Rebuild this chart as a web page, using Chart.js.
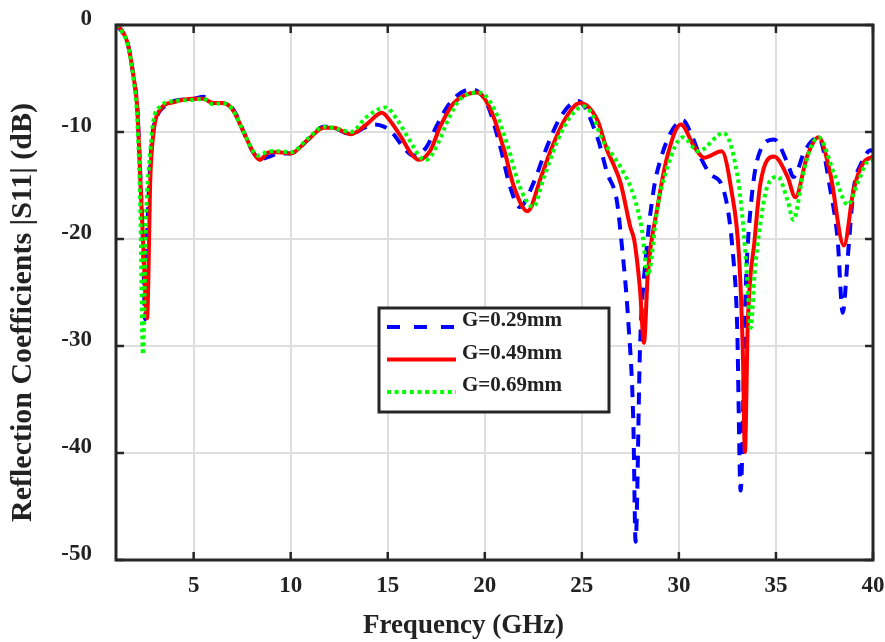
<!DOCTYPE html>
<html>
<head>
<meta charset="utf-8">
<script src="https://cdn.jsdelivr.net/npm/chart.js@4.4.0/dist/chart.umd.min.js"></script>
<style>
  html, body { margin: 0; padding: 0; background: #fff; }
</style>
</head>
<body>
<canvas id="s11Chart" width="885" height="642"></canvas>
<script>
// frequency (GHz) / S11 (dB) samples for each gap width G
const freq029 = [1.0, 1.3, 1.6, 1.9, 2.1, 2.25, 2.4, 2.5, 2.6, 2.75, 2.9, 3.2, 3.6, 4.0, 5.0, 5.5, 6.0, 6.4, 6.8, 7.2,
  7.6, 8.1, 8.5, 8.9, 9.4, 10.0, 10.9, 11.7, 12.2, 13.1, 13.8, 14.3, 14.8, 15.2, 15.8, 16.3, 17.0, 17.5, 18.2, 19.3,
  20.1, 20.8, 21.3, 21.8, 22.5, 23.2, 23.9, 24.8, 25.8, 26.3, 26.8, 27.0, 27.4, 27.65, 27.77, 28.0, 28.3, 28.7, 29.1, 29.6,
  30.2, 30.7, 31.1, 31.6, 32.3, 32.8, 33.0, 33.18, 33.44, 33.7, 34.2, 34.9, 35.6, 35.9, 36.5, 37.2, 37.8, 38.18, 38.44, 38.7,
  39.0, 39.4, 39.9, 40.0]
const s11_029 = [0, -0.6, -1.7, -4.8, -7.9, -14, -21, -27.5, -20, -13.5, -10, -8.2, -7.5, -7.1, -6.9, -6.7, -7.3, -7.3, -7.4, -8.4,
  -10.1, -12.0, -12.5, -12.3, -12.0, -12.0, -10.7, -9.5, -9.6, -10.2, -9.6, -9.3, -9.5, -10.0, -11.4, -12.2, -11.4, -9.5, -7.3, -6.0,
  -7.3, -11.4, -15.1, -17.0, -14.8, -11.4, -8.6, -7.1, -10.5, -13.8, -16.4, -19.5, -27.9, -37, -48.3, -30, -21.7, -15.4, -12.3, -10,
  -8.9, -10.5, -12.3, -13.9, -15.4, -21.7, -28, -43.5, -24.8, -17, -11.7, -10.7, -12.9, -14.2, -11.7, -10.5, -15.4, -20.1, -26.9, -21.7,
  -15.4, -12.9, -11.7, -11.8]

const freq049 = [1.0, 1.3, 1.6, 1.9, 2.1, 2.25, 2.4, 2.6, 2.77, 2.93, 3.28, 4.0, 5.0, 5.5, 6.0, 6.5, 7.0, 7.6, 8.1, 8.4,
  8.9, 9.4, 10.0, 10.9, 11.7, 12.2, 13.1, 13.9, 14.7, 15.1, 15.7, 16.2, 16.6, 17.2, 17.7, 18.4, 19.6, 20.3, 21.0, 21.5,
  22.2, 22.9, 23.4, 24.1, 24.9, 25.8, 26.3, 26.6, 27.0, 27.5, 27.7, 28.0, 28.2, 28.4, 28.9, 29.4, 30.1, 30.8, 31.3, 32.2,
  32.7, 33.1, 33.3, 33.4, 33.55, 33.9, 34.2, 34.9, 35.6, 36.0, 36.6, 37.2, 37.8, 38.5, 39.0, 39.5, 40.0]
const s11_049 = [0, -0.5, -1.7, -4.8, -7.9, -14.2, -20.4, -27.4, -14.2, -10.1, -7.9, -7.2, -6.9, -6.9, -7.3, -7.3, -7.9, -10.1, -12.0, -12.6,
  -11.9, -11.9, -12.0, -10.7, -9.6, -9.6, -10.2, -9.3, -8.2, -8.9, -10.5, -12.0, -12.6, -11.7, -9.5, -7.3, -6.3, -7.9, -11.7, -15.1,
  -17.4, -14.2, -11.7, -8.9, -7.3, -8.9, -11.7, -12.9, -14.8, -18.9, -20.1, -24.8, -29.7, -23.2, -17, -12.3, -9.3, -11.4, -12.4, -11.8,
  -15.4, -21.7, -31, -39.9, -27.9, -20.1, -14.8, -12.3, -14.2, -16.1, -12.3, -10.5, -13.9, -20.6, -15.4, -12.9, -12.3]

const freq069 = [1.0, 1.3, 1.6, 1.9, 2.1, 2.25, 2.39, 2.55, 2.77, 2.93, 3.3, 4.0, 5.0, 5.5, 6.0, 6.5, 7.0, 7.6, 8.1, 8.3,
  8.9, 9.4, 10.0, 10.9, 11.7, 12.2, 13.1, 13.9, 14.9, 15.5, 16.2, 16.7, 17.0, 17.6, 18.1, 18.7, 19.7, 20.5, 21.2, 21.8,
  22.5, 23.0, 23.7, 24.4, 25.1, 25.6, 26.0, 26.6, 27.0, 27.7, 28.1, 28.4, 28.9, 29.4, 30.2, 31.0, 32.3, 33.0, 33.3, 33.5,
  33.7, 33.9, 34.2, 34.5, 35.1, 35.6, 35.9, 36.4, 36.8, 37.2, 38.0, 38.7, 39.2, 39.7, 40.0]
const s11_069 = [0, -0.6, -1.8, -5.0, -9, -17, -30.8, -18, -11.7, -8.9, -7.6, -7.1, -7.0, -6.9, -7.4, -7.3, -7.9, -10.1, -11.9, -12.2,
  -11.8, -11.8, -11.9, -10.6, -9.5, -9.6, -10.0, -8.6, -7.7, -8.9, -11.0, -12.4, -12.6, -11.0, -8.9, -7.0, -6.3, -7.9, -11.4, -15.1,
  -17.0, -14.5, -11.0, -8.6, -7.6, -8.6, -10.5, -12.2, -13.3, -16.1, -19.2, -23.4, -17, -13.3, -10.5, -11.8, -10.1, -13.9, -18.5, -23.2,
  -28.3, -23.2, -18.5, -15.4, -14.2, -16.4, -18.2, -13.9, -11.4, -10.5, -13.9, -16.8, -14.8, -12.8, -12.6]

const seriesLabels = ['G=0.29mm', 'G=0.49mm', 'G=0.69mm']
const xTickValues = [5, 10, 15, 20, 25, 30, 35, 40]

const FONT = '"Liberation Serif", "Times New Roman", serif'
const INK = '#222222'

const toPoints = (xs, ys) => xs.map((f, i) => ({ x: f, y: ys[i] }))

const data = {
  datasets: [
    {
      label: seriesLabels[0],
      data: toPoints(freq029, s11_029),
      borderColor: '#0000ff',
      borderWidth: 4,
      borderDash: [12, 9],
      legendDash: [13, 14],
      order: 2
    },
    {
      label: seriesLabels[1],
      data: toPoints(freq049, s11_049),
      borderColor: '#ff0000',
      borderWidth: 4,
      borderDash: [],
      legendDash: [],
      order: 1
    },
    {
      label: seriesLabels[2],
      data: toPoints(freq069, s11_069),
      borderColor: '#00ff00',
      borderWidth: 4,
      borderDash: [3.5, 3.5],
      legendDash: [4, 3.6],
      order: 0
    }
  ]
}

// box frame with inward ticks, axis titles and the legend box
const framePlugin = {
  id: 'framePlugin',
  afterDraw(chart) {
    const { ctx, chartArea: a, scales } = chart
    const xs = scales.x, ys = scales.y
    const tick = 8
    ctx.save()
    ctx.strokeStyle = '#262626'
    ctx.lineWidth = 2.5
    ctx.beginPath()
    xTickValues.forEach(v => {
      const px = xs.getPixelForValue(v)
      ctx.moveTo(px, a.bottom); ctx.lineTo(px, a.bottom - tick)
      ctx.moveTo(px, a.top); ctx.lineTo(px, a.top + tick)
    })
    ys.ticks.forEach(t => {
      const py = ys.getPixelForValue(t.value)
      ctx.moveTo(a.left, py); ctx.lineTo(a.left + tick, py)
      ctx.moveTo(a.right, py); ctx.lineTo(a.right - tick, py)
    })
    ctx.stroke()
    ctx.lineWidth = 3
    ctx.strokeRect(a.left, a.top, a.right - a.left, a.bottom - a.top)

    // axis titles
    ctx.fillStyle = INK
    ctx.textAlign = 'center'
    ctx.textBaseline = 'middle'
    ctx.font = 'bold 27px ' + FONT
    ctx.fillText('Frequency (GHz)', (a.left + a.right) / 2 - 31, 626)
    ctx.save()
    ctx.translate(23, (a.top + a.bottom) / 2 + 20)
    ctx.rotate(-Math.PI / 2)
    ctx.font = 'bold 30px ' + FONT
    ctx.fillText('Reflection Coefficients |S11| (dB)', 0, 0)
    ctx.restore()

    // legend
    const lx = 379, ly = 308, lw = 230, lh = 104
    ctx.fillStyle = '#ffffff'
    ctx.fillRect(lx, ly, lw, lh)
    ctx.lineWidth = 3
    ctx.strokeStyle = '#262626'
    ctx.strokeRect(lx, ly, lw, lh)
    ctx.font = 'bold 21px ' + FONT
    ctx.textAlign = 'left'
    ctx.textBaseline = 'middle'
    chart.data.datasets.forEach((ds, i) => {
      const rowY = ly + 16 + i * 32.5
      ctx.save()
      ctx.strokeStyle = ds.borderColor
      ctx.lineWidth = ds.borderWidth
      ctx.setLineDash(ds.legendDash)
      ctx.beginPath()
      ctx.moveTo(lx + 8, rowY + 3)
      ctx.lineTo(lx + 77, rowY + 3)
      ctx.stroke()
      ctx.restore()
      ctx.fillStyle = INK
      ctx.fillText(ds.label, lx + 83, rowY - 3)
    })
    ctx.restore()
  }
}

const config = {
  type: 'line',
  data: data,
  options: {
    responsive: false,
    animation: false,
    devicePixelRatio: 1,
    layout: { padding: { left: 0, top: 25, right: 12, bottom: 0 } },
    elements: {
      point: { radius: 0 },
      line: { cubicInterpolationMode: 'monotone', borderCapStyle: 'butt', borderJoinStyle: 'round' }
    },
    plugins: {
      legend: { display: false },
      tooltip: { enabled: false }
    },
    scales: {
      x: {
        type: 'linear',
        min: 1,
        max: 40,
        afterBuildTicks: (scale) => { scale.ticks = xTickValues.map(v => ({ value: v })) },
        afterFit: (scale) => {
          scale.height = 82
          scale.paddingLeft = 0
          scale.paddingRight = 0
        },
        grid: { color: '#dedede', lineWidth: 2, drawTicks: false },
        border: { display: false },
        ticks: {
          padding: 12,
          maxRotation: 0,
          color: INK,
          font: { family: FONT, size: 23, weight: 'bold' }
        }
      },
      y: {
        min: -50,
        max: 0,
        afterFit: (scale) => {
          scale.width = 116
          scale.paddingTop = 0
          scale.paddingBottom = 0
        },
        grid: { color: '#dedede', lineWidth: 2, drawTicks: false },
        border: { display: false },
        ticks: {
          stepSize: 10,
          padding: 24,
          labelOffset: -6,
          color: INK,
          font: { family: FONT, size: 23, weight: 'bold' }
        }
      }
    }
  },
  plugins: [framePlugin]
}

const s11Chart = new Chart(document.getElementById('s11Chart'), config)
</script>
</body>
</html>
